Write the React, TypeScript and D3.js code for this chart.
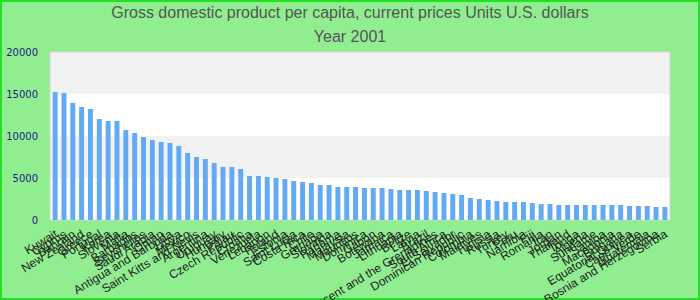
import React from "react";
import * as d3 from "d3";

const countries: string[] = [
  "Kuwait", "Cyprus", "Bahrain", "New Zealand", "Greece", "Portugal", "Korea", "Slovenia", "Malta", "Barbados",
  "Seychelles", "Saudi Arabia", "Oman", "Antigua and Barbuda", "Libya", "Mexico", "Saint Kitts and Nevis", "Argentina", "Uruguay", "Hungary",
  "Palau", "Czech Republic", "Croatia", "Venezuela", "Lebanon", "Poland", "Estonia", "Saint Lucia", "Costa Rica", "Chile",
  "Grenada", "Slovakia", "Panama", "Malaysia", "Mauritius", "Dominica", "Gabon", "Botswana", "Jamaica", "Lithuania",
  "Belize", "Latvia", "Brazil", "Saint Vincent and the Grenadines", "South Africa", "El Salvador", "Dominican Republic", "Colombia", "Maldives", "Tunisia",
  "Russia", "Turkey", "Peru", "Namibia", "Fiji", "Romania", "Iran", "Jordan", "Thailand", "Tonga",
  "Algeria", "Suriname", "Samoa", "Macedonia", "Bulgaria", "Equatorial Guinea", "Cape Verde", "Guatemala", "Bosnia and Herzegovina", "Serbia",
];

const gdpPerCapita: number[] = [
  15240, 15120, 13930, 13450, 13210, 12020, 11790, 11790, 10710, 10360,
  9880, 9520, 9290, 9170, 8810, 7980, 7500, 7260, 6790, 6310,
  6310, 6070, 5240, 5240, 5120, 5000, 4880, 4640, 4520, 4410,
  4170, 4170, 3930, 3930, 3930, 3810, 3810, 3810, 3690, 3570,
  3570, 3570, 3450, 3330, 3210, 3100, 2980, 2620, 2500, 2380,
  2260, 2140, 2140, 2140, 2020, 1900, 1900, 1790, 1790, 1790,
  1790, 1790, 1790, 1790, 1790, 1670, 1670, 1670, 1550, 1550,
];

const yTicks: number[] = [0, 5000, 10000, 15000, 20000];
const titleLines: string[] = [
  "Gross domestic product per capita, current prices Units U.S. dollars",
  "Year 2001",
];

const W = 700;
const H = 300;
const plot = { left: 50, right: 670, top: 52, bottom: 220 };

export default function App() {
  const x = d3
    .scaleBand<string>()
    .domain(countries)
    .range([plot.left, plot.right])
    .paddingInner(0.44)
    .paddingOuter(0.3);
  const y = d3.scaleLinear().domain([0, 20000]).range([plot.bottom, plot.top]);
  const bw = x.bandwidth();

  const bands = yTicks.slice(0, -1).map((t, i) => ({ lo: t, hi: yTicks[i + 1], i }));

  return (
    <svg
      width={W}
      height={H}
      style={{ position: "absolute", left: 0, top: 0, display: "block" }}
    >
      <rect x={1} y={1} width={W - 2} height={H - 2} fill="#90ee90" stroke="#22e022" strokeWidth={2} />
      {titleLines.map((t, i) => (
        <text
          key={i}
          x={W / 2}
          y={18 + i * 24}
          textAnchor="middle"
          fontFamily="'Liberation Sans', Arial, sans-serif"
          fontSize={16}
          fill="#555555"
        >
          {t}
        </text>
      ))}
      {bands.map((b) => (
        <rect
          key={b.i}
          x={plot.left}
          y={y(b.hi)}
          width={plot.right - plot.left}
          height={y(b.lo) - y(b.hi)}
          fill={b.i % 2 === 1 ? "#f2f2f2" : "#ffffff"}
        />
      ))}
      <rect
        x={plot.left}
        y={plot.top}
        width={plot.right - plot.left}
        height={plot.bottom - plot.top}
        fill="none"
        stroke="#d4d4d4"
        strokeWidth={1}
      />
      {countries.map((c, i) => (
        <rect
          key={c}
          x={x(c)}
          y={y(gdpPerCapita[i])}
          width={bw}
          height={y(0) - y(gdpPerCapita[i])}
          fill="#63aaf5"
        />
      ))}
      {yTicks.map((t) => (
        <text
          key={t}
          x={38}
          y={y(t)}
          dy="0.35em"
          textAnchor="end"
          fontFamily="'DejaVu Sans', sans-serif"
          fontSize={10}
          fill="#1e1e82"
        >
          {t}
        </text>
      ))}
      {countries.map((c) => (
        <g key={c} transform={`translate(${(x(c) as number) + bw / 2 - 1},229) rotate(-31)`}>
          <text
            textAnchor="end"
            dy="0.71em"
            fontFamily="'Liberation Sans', Arial, sans-serif"
            fontSize={12}
            fill="#222222"
          >
            {c}
          </text>
        </g>
      ))}
    </svg>
  );
}
